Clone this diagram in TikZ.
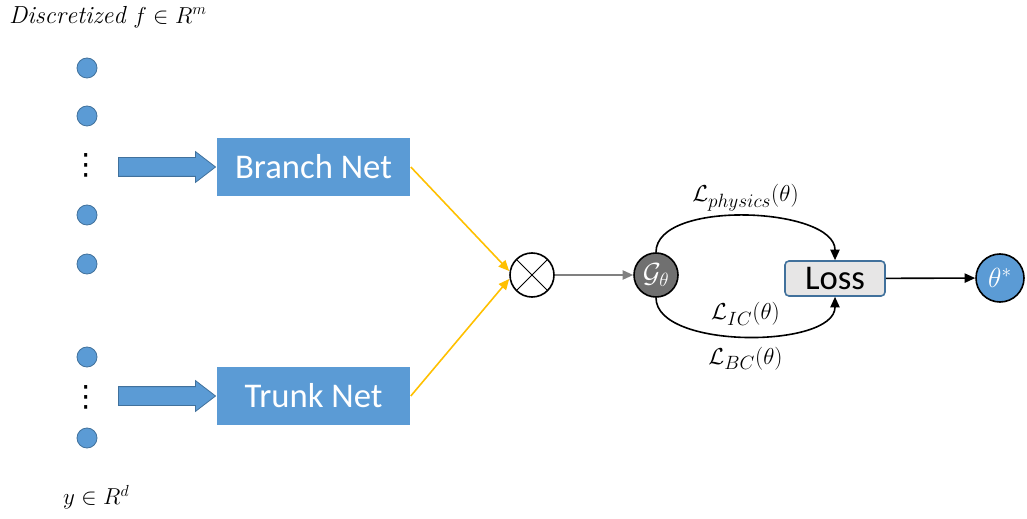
\documentclass[tikz,border=0pt]{standalone}
\usepackage{amsmath,amssymb}
\usepackage{fontspec}
\newfontfamily\netfont{Carlito}
\newfontfamily\symfont{DejaVu Sans}
\usetikzlibrary{positioning, arrows.meta, calc, shapes.arrows}
\definecolor{cB}{RGB}{91,155,213}
\definecolor{cBd}{RGB}{65,113,156}
\definecolor{cY}{RGB}{255,192,0}
\definecolor{cG}{RGB}{112,112,112}
\definecolor{cA}{RGB}{128,128,128}
\definecolor{cL}{RGB}{231,230,230}

\begin{document}
\begin{tikzpicture}[x=0.75pt, y=0.75pt, line width=1.2pt,
    >={Triangle[length=8pt, width=7pt]},
    dot/.style={circle, fill=cB, draw=cBd, line width=0.6pt, minimum size=15pt, inner sep=0pt},
    net/.style={rectangle, fill=cB, minimum width=144.75pt, minimum height=43.5pt, text=white, font=\netfont\fontsize{26}{30}\selectfont},
    feed/.style={single arrow, fill=cB, draw=cBd, line width=0.6pt, minimum height=72.75pt, minimum width=22.5pt, single arrow head extend=4.5pt, single arrow tip angle=75, inner sep=0pt, inner ysep=6.75pt},
    lbl/.style={font=\fontsize{19}{22}\selectfont},
    vdot/.style={inner sep=0pt, font=\symfont\fontsize{22}{24}\selectfont}]
    \useasboundingbox (0,0) rectangle (1027,518);

    \node[anchor=west, font=\fontsize{18.5}{20}\selectfont] (fin) at (4,501) {$\mathit{Discretized}\ f\in R^m$};
    \node[anchor=west, font=\fontsize{17}{20}\selectfont] (yin) at (58,21) {$y\in R^d$};

    \node[dot] (f1) at (87,450) {};
    \node[dot] (f2) at (87,402) {};
    \node[vdot] (fdots) at (86,353) {⋮};
    \node[dot] (f3) at (87,303) {};
    \node[dot] (f4) at (87,254) {};
    \node[dot] (y1) at (87,161) {};
    \node[vdot] (ydots) at (86,121) {⋮};
    \node[dot] (y2) at (87,80) {};

    \node[net] (branch) at (313.5,351) {Branch Net};
    \node[net] (trunk) at (313.5,122) {Trunk Net};
    \node[feed, left=0pt of branch] (bfeed) {};
    \node[feed, left=0pt of trunk] (tfeed) {};

    \node[circle, draw, minimum size=33pt, inner sep=0pt,
          path picture={\draw[line width=0.6pt] (path picture bounding box.north west) -- (path picture bounding box.south east)
                        (path picture bounding box.north east) -- (path picture bounding box.south west);}] (prod) at (532,243) {};
    \node[circle, draw, fill=cG, text=white, minimum size=33pt, inner sep=0pt, font=\fontsize{21}{24}\selectfont] (G) at (656,243) {$\mathcal{G}_\theta$};
    \node[rectangle, rounded corners=3pt, fill=cL, draw=cBd, minimum width=75pt, minimum height=26.25pt,
          font=\netfont\fontsize{26}{30}\selectfont] (loss) at (835,239.5) {Loss};
    \node[circle, draw, fill=cB, text=white, minimum size=36pt, inner sep=0pt, font=\fontsize{21}{24}\selectfont] (opt) at (1000,240) {$\theta^*$};

    \draw[->, cY] (branch.east) -- ($(prod.west)+(0,4)$);
    \draw[->, cY] (trunk.east) -- ($(prod.west)+(0,-4)$);
    \draw[->, cA] (prod) -- (G);

    \path[->]
    (G.north) edge [out=90, in=90, looseness=0.76] node[lbl, above] {$\mathcal{L}_{physics}(\theta)$} (loss.north)
    (G.south) edge [out=-90, in=-90, looseness=0.74] node[lbl, above=4pt] {$\mathcal{L}_{IC}(\theta)$}
                                                     node[lbl, below=4pt] {$\mathcal{L}_{BC}(\theta)$} (loss.south)
    (loss) edge (opt);
\end{tikzpicture}
\end{document}
